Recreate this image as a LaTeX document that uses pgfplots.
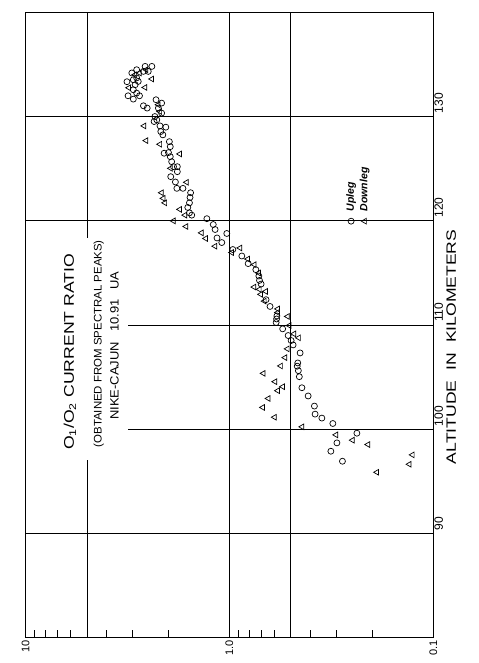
\documentclass[border=0pt]{standalone}
\usepackage{fontspec}
\setmainfont{Liberation Sans}
\usepackage{pgfplots}
\pgfplotsset{compat=1.18}
\begin{document}
\begin{tikzpicture}
\begin{axis}[
  name=ax,
  scale only axis, width=407.8pt, height=625.4pt,
  clip=false,
  xmode=log, x dir=reverse, xmin=0.1, xmax=10,
  ymin=80, ymax=140,
  axis line style={black, line width=1pt},
  xtick={0.1,0.5,1,5,10}, xticklabels={0.1,,1.0,,10},
  minor xtick={0.2,0.3,0.4,0.6,0.7,0.8,0.9,2,3,4,6,7,8,9},
  ytick={90,100,110,120,130}, yticklabels={90,100,110,120,130},
  xmajorgrids, ymajorgrids,
  major grid style={black, line width=0.7pt},
  tick align=inside, xtick pos=left, ytick pos=right, yticklabel pos=right,
  major tick length=0pt, minor tick length=8pt,
  minor tick style={black, line width=0.7pt},
  xticklabel style={rotate=90, anchor=east, font=\fontsize{11}{12}\selectfont, inner sep=2pt},
  yticklabel style={rotate=90, anchor=north west, font=\fontsize{12}{13}\selectfont, inner sep=1pt, xshift=2pt},
]
% mask behind the title (gridlines are interrupted there)
\fill[white] (rel axis cs:0.0,0.284) rectangle (rel axis cs:0.251,0.639);
\draw[black, line width=1pt] (rel axis cs:0,0.27) -- (rel axis cs:0,0.65);
\node[rotate=90, font=\fontsize{14}{15}\selectfont] at (rel axis cs:0.109,0.457)
  {\scalebox{1.26}[1]{O\textsubscript{1}/O\textsubscript{2} CURRENT RATIO}};
\node[rotate=90, font=\fontsize{11}{12}\selectfont] at (rel axis cs:0.180,0.470)
  {\scalebox{1.04}[1]{(OBTAINED FROM SPECTRAL PEAKS)}};
\node[rotate=90, font=\fontsize{12}{13}\selectfont] at (rel axis cs:0.218,0.467)
  {\scalebox{1.08}[1]{NIKE-CAJUN\hspace{6pt} 10.91\hspace{6pt} UA}};
\node[rotate=90, font=\fontsize{13.5}{14}\selectfont] at (rel axis cs:1.044,0.465)
  {\scalebox{1.3}[1]{ALTITUDE\hspace{4pt} IN\hspace{4pt} KILOMETERS}};

% Upleg
\addplot[only marks, mark=o, mark size=3pt, black, line width=0.7pt] coordinates {
(3.18,133.34)(3.14,131.99)(3.01,134.18)(2.96,133.53)(2.90,133.05)(2.96,132.57)(2.85,134.49)(2.85,133.70)(2.80,133.37)(2.85,132.25)(2.76,131.99)(2.96,131.67)(2.64,134.33)(2.59,134.81)(2.50,134.33)(2.40,134.81)(2.64,131.03)(2.53,130.81)(2.29,131.61)(2.15,131.29)(2.23,130.81)(2.15,130.33)(2.32,130.00)(2.27,129.68)(2.19,129.10)(2.05,128.98)(2.34,129.52)(2.17,128.56)(2.12,128.24)(1.97,127.59)(1.95,127.11)(2.09,126.48)(1.99,126.54)(1.95,126.15)(1.92,125.67)(1.88,125.19)(1.80,125.19)(1.80,124.71)(1.94,124.23)(1.84,123.72)(1.81,123.11)(1.69,123.11)(1.55,122.69)(1.56,122.24)(1.57,121.72)(1.60,121.28)(1.57,120.76)(1.53,120.54)(1.29,120.20)(1.20,119.64)(1.175,119.16)(1.03,118.78)(1.15,118.35)(1.09,117.91)(0.962,117.24)(0.869,116.62)(0.809,115.89)(0.742,115.31)(0.717,114.70)(0.712,114.28)(0.699,113.93)(0.661,112.43)(0.632,111.78)(0.585,110.87)(0.587,110.58)(0.590,110.24)(0.548,109.63)(0.515,108.99)(0.498,108.51)(0.487,108.09)(0.450,107.32)(0.462,106.36)(0.465,106.05)(0.459,105.62)(0.454,105.04)(0.441,103.98)(0.411,103.19)(0.383,102.22)(0.380,101.45)(0.352,101.07)(0.311,100.55)(0.237,99.62)(0.297,98.69)(0.318,97.89)(0.279,96.93)
};
% Downleg
\addplot[only marks, mark=triangle, mark size=3.3pt, mark options={rotate=90}, black, line width=0.7pt] coordinates {
(3.11,132.76)(2.90,134.01)(2.76,134.18)(2.56,134.49)(2.40,133.60)(2.59,132.79)(2.23,131.13)(2.19,130.48)(2.62,129.10)(2.56,127.69)(2.19,127.34)(1.75,126.41)(1.94,125.03)(1.62,123.69)(2.15,122.69)(2.11,122.15)(2.07,121.72)(1.75,121.09)(1.65,120.54)(1.88,119.99)(1.63,119.45)(1.37,118.84)(1.305,118.30)(1.175,117.56)(0.973,116.95)(0.886,117.39)(0.812,116.33)(0.754,115.79)(0.717,114.99)(0.756,113.64)(0.712,113.42)(0.663,113.22)(0.701,112.94)(0.673,112.29)(0.579,111.54)(0.579,111.20)(0.518,110.82)(0.508,109.95)(0.482,109.15)(0.457,108.77)(0.519,107.71)(0.533,106.87)(0.560,106.07)(0.681,105.36)(0.597,104.56)(0.547,104.08)(0.579,103.70)(0.644,102.95)(0.686,102.09)(0.600,101.15)(0.440,100.23)(0.300,99.46)(0.249,98.95)(0.209,98.53)(0.1265,97.54)(0.131,96.64)(0.189,95.87)
};
% legend symbols
\addplot[only marks, mark=o, mark size=3pt, black, line width=0.7pt, forget plot] coordinates {(0.253,119.96)};
\addplot[only marks, mark=triangle, mark size=3.3pt, mark options={rotate=90}, black, line width=0.7pt, forget plot] coordinates {(0.217,119.96)};
\node[rotate=90, anchor=west, font=\fontsize{10.5}{11}\selectfont\bfseries\itshape, inner sep=0pt] at (axis cs:0.253,120.9) {Upleg};
\node[rotate=90, anchor=west, font=\fontsize{10.5}{11}\selectfont\bfseries\itshape, inner sep=0pt] at (axis cs:0.217,120.9) {Downleg};
\end{axis}
\pgfresetboundingbox
\useasboundingbox ([xshift=-25.5pt,yshift=-25.3pt]ax.south west) rectangle ([xshift=44.7pt,yshift=12.3pt]ax.north east);
\end{tikzpicture}
\end{document}
